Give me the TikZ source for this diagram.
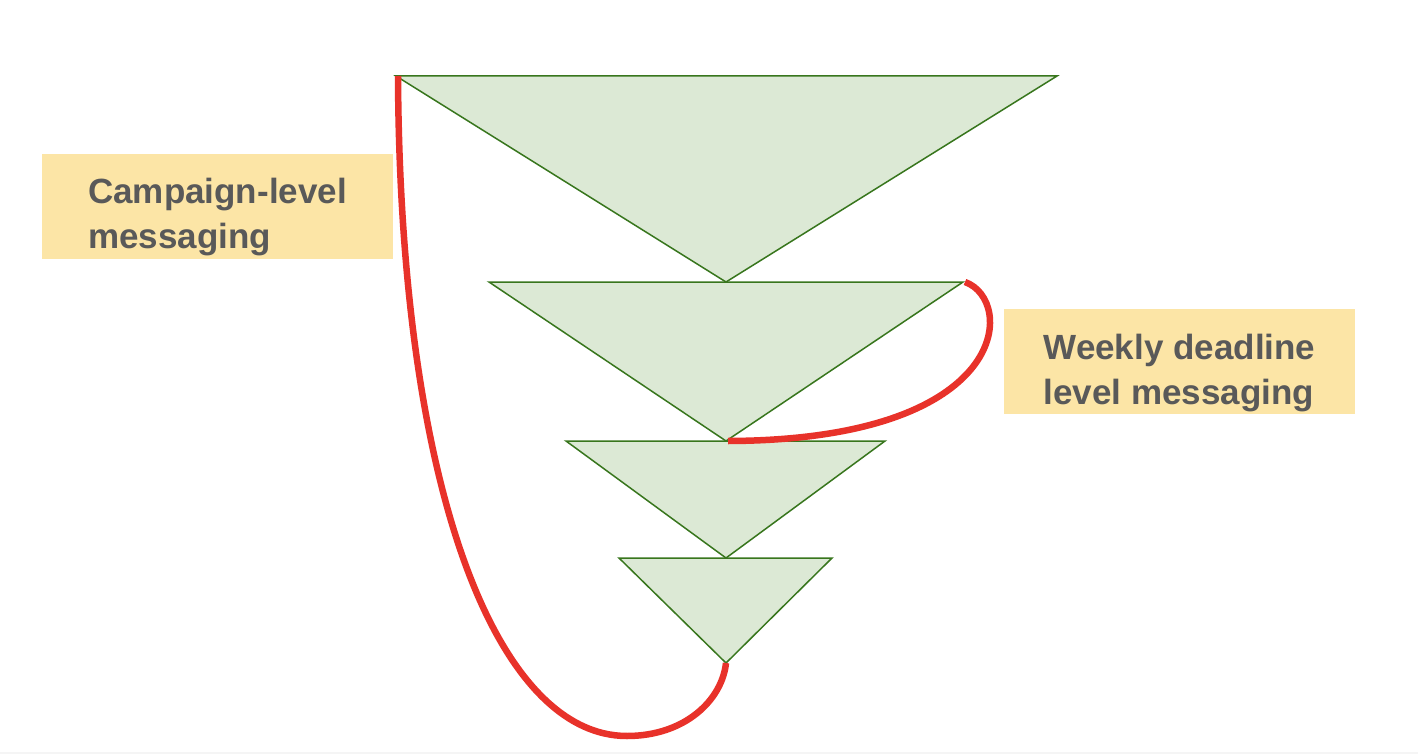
\documentclass[tikz,border=0pt]{standalone}
\usepackage{fontspec}
\setmainfont{Liberation Sans}
\definecolor{tri}{HTML}{DCE9D5}
\definecolor{triedge}{HTML}{38761D}
\definecolor{curve}{HTML}{E8322A}
\definecolor{lbl}{HTML}{FCE5A6}
\definecolor{txt}{HTML}{595959}
\begin{document}
\begin{tikzpicture}[x=1pt,y=-1pt,
  funnel/.style={fill=tri,draw=triedge,line width=1.5pt,line join=miter},
  link/.style={draw=curve,line width=6.5pt},
  label box/.style={fill=lbl,minimum width=351pt,minimum height=105pt,inner sep=0pt},
  label text/.style={text=txt,font=\fontsize{35}{45}\selectfont\bfseries,align=left,inner sep=0pt}]
\useasboundingbox (0,0) rectangle (1418,754);
\fill[white] (0,0) rectangle (1418,754);
\fill[black!4] (0,752) rectangle (1418,754);
% triangle vertices
\coordinate (a1) at (396,76); \coordinate (b1) at (1057,76); \coordinate (c1) at (726,282);
\coordinate (a2) at (489,282); \coordinate (b2) at (963,282); \coordinate (c2) at (726,441);
\coordinate (a3) at (566,441); \coordinate (b3) at (885,441); \coordinate (c3) at (726,558);
\coordinate (a4) at (619,558); \coordinate (b4) at (832,558); \coordinate (c4) at (726,663);
\path[funnel] (a1) -- (b1) -- (c1) -- cycle;
\path[funnel] (a2) -- (b2) -- (c2) -- cycle;
\path[funnel] (a3) -- (b3) -- (c3) -- cycle;
\path[funnel] (a4) -- (b4) -- (c4) -- cycle;
% red curves
\coordinate (bottom) at (627,736);
\path[link] ([xshift=2pt]a1) .. controls (400,500) and (500,736) .. (bottom)
   .. controls (685,736) and (722,700) .. (c4);
\path[link] ([xshift=2pt]b2) .. controls (1016,300) and (1012,440) .. ([xshift=2pt]c2);
% labels
\node[label box] (campaign) at (217.5,206.5) {};
\node[label text] at ([yshift=-11pt]campaign.center) {Campaign-level\\messaging};
\node[label box] (weekly) at (1179.5,361.5) {};
\node[label text] at ([yshift=-12pt]weekly.center) {Weekly deadline\\level messaging};
\end{tikzpicture}
\end{document}
